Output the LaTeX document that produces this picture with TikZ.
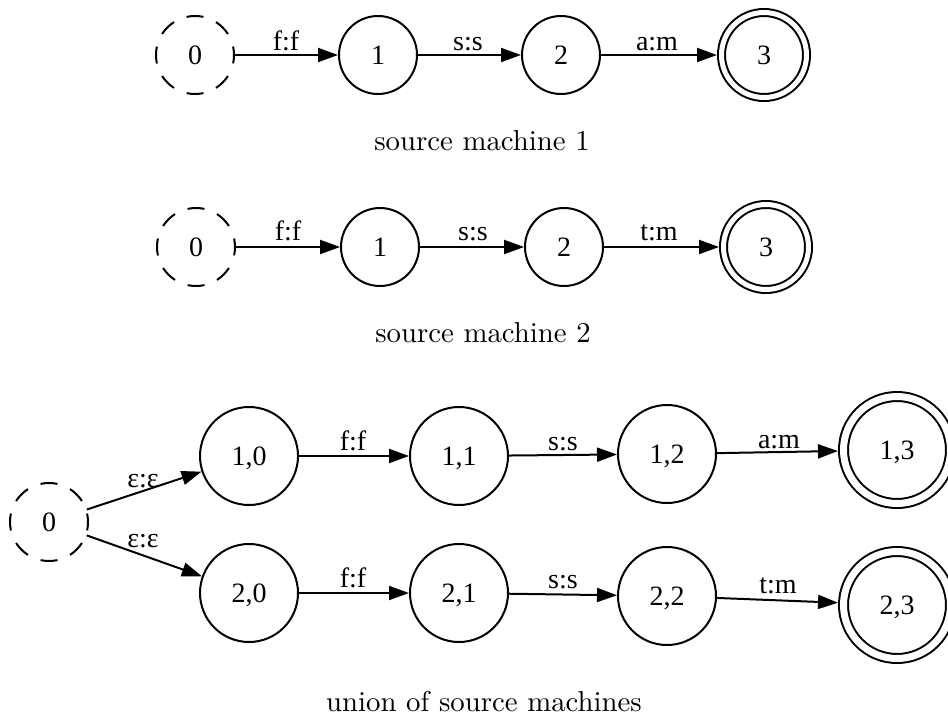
\documentclass[tikz,border=0pt]{standalone}
\usepackage{fontspec}
\newfontfamily\tms{Liberation Serif}
\newfontfamily\capfont{lmroman10-regular.otf}
\usetikzlibrary{arrows.meta}
\begin{document}
\begin{tikzpicture}[x=1pt,y=-1pt,
  st/.style={circle, draw, line width=2pt, inner sep=0pt, minimum size=78pt, text depth=0pt, font=\tms\fontsize{28}{30}\selectfont},
  bigst/.style={st, minimum size=98pt},
  init/.style={st, dash pattern=on 17pt off 13.63pt, dash phase=8.5pt},
  acc/.style={st, minimum size=85pt, double, double distance=5pt, outer sep=4.5pt},
  bigacc/.style={st, minimum size=107pt, double, double distance=7pt, outer sep=5.5pt},
  tr/.style={line width=2pt, -{Triangle[length=20pt,width=14pt]}},
  lab/.style={anchor=base, inner sep=0pt, font=\tms\fontsize{28}{30}\selectfont},
  captxt/.style={anchor=base, inner sep=0pt, font=\capfont\fontsize{28.8}{34}\selectfont}]
\useasboundingbox (0,0) rectangle (948,715);
% machine 1
\node[init] (a0) at (195,55) {0};
\node[st] (a1) at (378,55) {1};
\node[st] (a2) at (561,55) {2};
\node[acc] (a3) at (764,55) {3};
\draw[tr] (a0) -- (a1);
\draw[tr] (a1) -- (a2);
\draw[tr] (a2) -- (a3);
\node[lab] (la1) at (286,50) {f:f};
\node[lab] (la2) at (468,50) {s:s};
\node[lab] (la3) at (657,50) {a:m};
\node[captxt] (cap1) at (482,150) {source machine 1};
% machine 2
\node[init] (b0) at (196,247) {0};
\node[st] (b1) at (380,247) {1};
\node[st] (b2) at (564,247) {2};
\node[acc] (b3) at (766,247) {3};
\draw[tr] (b0) -- (b1);
\draw[tr] (b1) -- (b2);
\draw[tr] (b2) -- (b3);
\node[lab] (lb1) at (288,240) {f:f};
\node[lab] (lb2) at (473,240) {s:s};
\node[lab] (lb3) at (659,240) {t:m};
\node[captxt] (cap2) at (483,342) {source machine 2};
% union
\node[init] (c0) at (49,522) {0};
\node[bigst] (c10) at (249,456) {1,0};
\node[bigst] (c11) at (459,456) {1,1};
\node[bigst] (c12) at (667,454) {1,2};
\node[bigacc] (c13) at (897,450) {1,3};
\node[bigst] (c20) at (249,593) {2,0};
\node[bigst] (c21) at (459,593) {2,1};
\node[bigst] (c22) at (667,596) {2,2};
\node[bigacc] (c23) at (897,605) {2,3};
\draw[tr] (c0) -- (c10);
\draw[tr] (c0) -- (c20);
\draw[tr] (c10) -- (c11);
\draw[tr] (c11) -- (c12);
\draw[tr] (c12) -- (c13);
\draw[tr] (c20) -- (c21);
\draw[tr] (c21) -- (c22);
\draw[tr] (c22) -- (c23);
\node[lab] (le1) at (143,487) {ε:ε};
\node[lab] (le2) at (143,547) {ε:ε};
\node[lab] (lc1) at (353,450) {f:f};
\node[lab] (lc2) at (563,450) {s:s};
\node[lab] (lc3) at (779,448) {a:m};
\node[lab] (ld1) at (353,587) {f:f};
\node[lab] (ld2) at (563,588) {s:s};
\node[lab] (ld3) at (778,593) {t:m};
\node[captxt] (cap3) at (484,711) {union of source machines};
\end{tikzpicture}
\end{document}
